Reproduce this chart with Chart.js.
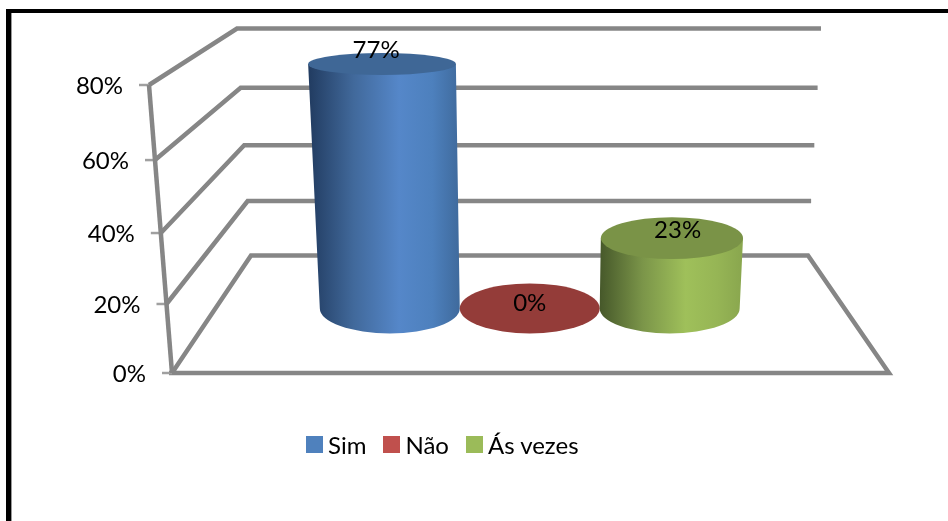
<!DOCTYPE html>
<html>
<head>
<meta charset="utf-8">
<script src="https://cdn.jsdelivr.net/npm/chart.js@4"></script>
<style>
  html, body { margin: 0; padding: 0; background: #fff; }
  #wrap { position: relative; width: 948px; height: 521px; overflow: hidden; }
  #legend { position: absolute; left: 306px; top: 429px; display: flex; align-items: center; height: 30px;
            font: 24px Lato, sans-serif; color: #000; }
  #legend .item { display: flex; align-items: center; margin-right: 17px; }
  #legend .swatch { width: 17px; height: 17px; margin-right: 5px; display: inline-block; }
</style>
</head>
<body>
<div id="wrap">
  <canvas id="chart" width="948" height="521"></canvas>
  <div id="legend"></div>
</div>
<script>
const categories = [""];
const seriesNames = ["Sim", "Não", "Ás vezes"];
const seriesValues = [77, 0, 23];
const tickStep = 20;
const tickMax = 80;

const legendColors = ["#4f81bd", "#c0504d", "#9bbb59"];
const topColors = ["#3f6796", "#943c39", "#7a9347"];
const bodyStops = [
  ["#213b60", "#41699b", "#5587c9", "#4d80bd", "#3f6a9c"],
  ["#943c39", "#943c39", "#943c39", "#943c39", "#943c39"],
  ["#46582a", "#7b9549", "#9fc05a", "#96b555", "#89a64e"],
];

// wall and floor of the fake 3D box, all in terms of f (0 at the floor, 1 at the top tick)
const PERSPECTIVE = 0.0576;
const DEPTH = 0.55;
const frontLeftX = (f) => 172 - 23 * f;
const backLeftX = (f) => 251 - 14 * f;
const backRightX = (f) => 808 + 13 * f;
const backY = (f) => 255.5 - 227 * f;
const frontRightX = 889;

// linear scale, a little compressed towards the floor like the original's perspective
class PerspectiveScale extends Chart.LinearScale {
  static id = "perspective";
  static defaults = Chart.LinearScale.defaults;
  getPixelForDecimal(d) {
    return super.getPixelForDecimal(d / (1 + PERSPECTIVE * (1 - d)));
  }
  getDecimalForPixel(p) {
    const f = super.getDecimalForPixel(p);
    return (f * (1 + PERSPECTIVE)) / (1 + PERSPECTIVE * f);
  }
  // labels follow the tilted axis
  _computeLabelItems(area) {
    const items = super._computeLabelItems(area);
    items.forEach((item) => {
      const y = item.options.translation[1];
      const f = (this.bottom - y) / (this.bottom - this.top);
      item.options.translation[0] = frontLeftX(f) - 26;
      item.options.translation[1] = y + 1.5;
      item.options.textAlign = "right";
    });
    return items;
  }
}
Chart.register(PerspectiveScale);

const decimalOf = (chart, y) => (chart.chartArea.bottom - y) / (chart.chartArea.bottom - chart.chartArea.top);

const drawBox = (chart) => {
  const { ctx } = chart;
  const yScale = chart.scales.y;
  ctx.save();
  // frame of the pasted picture
  ctx.fillStyle = "#000";
  ctx.fillRect(6, 9, 942, 4);
  ctx.fillRect(6, 9, 5, 512);
  ctx.fillStyle = "#999";
  ctx.fillRect(11, 13, 1, 508);

  ctx.strokeStyle = "#868686";
  ctx.lineJoin = "miter";
  yScale.ticks.forEach((tick) => {
    const y = yScale.getPixelForValue(tick.value);
    const f = decimalOf(chart, y);
    ctx.lineWidth = 4.5;
    ctx.beginPath();
    ctx.moveTo(frontLeftX(f), y);
    ctx.lineTo(backLeftX(f), backY(f));
    ctx.lineTo(backRightX(f), backY(f));
    if (tick.value === 0) {
      ctx.lineTo(frontRightX, y);
      ctx.lineTo(frontLeftX(f) - 3, y);
    }
    ctx.stroke();
    ctx.lineWidth = 2.5;
    ctx.strokeStyle = "#a0a0a0";
    ctx.beginPath();
    ctx.moveTo(frontLeftX(f) - 10, y);
    ctx.lineTo(frontLeftX(f), y);
    ctx.stroke();
    ctx.strokeStyle = "#868686";
  });
  ctx.lineWidth = 4.5;
  ctx.beginPath();
  ctx.moveTo(frontLeftX(1), yScale.top);
  ctx.lineTo(frontLeftX(0), yScale.bottom);
  ctx.stroke();
  ctx.restore();
};

const drawCylinders = (chart) => {
  const { ctx, chartArea } = chart;
  const midX = (chartArea.left + chartArea.right) / 2;
  const midY = (f, frontY) => frontY + (backY(f) - frontY) * DEPTH;
  const labels = [];
  chart.data.datasets.forEach((ds, i) => {
    const bar = chart.getDatasetMeta(i).data[0];
    const f = decimalOf(chart, bar.y);
    const grow = 1 + 0.058 * f;
    const baseY = midY(0, bar.base);
    const topY = midY(f, bar.y);
    const topX = midX + (bar.x - midX) * grow;
    const baseRx = bar.width / 2;
    const topRx = (bar.width / 2) * grow;
    const baseRy = 25;
    const topRy = 25 - 14.6 * f;

    ctx.save();
    if (ds.data[0] > 0) {
      const grad = ctx.createLinearGradient(Math.min(topX - topRx, bar.x - baseRx), 0, Math.max(topX + topRx, bar.x + baseRx), 0);
      [0, 0.3, 0.6, 0.82, 1].forEach((stop, k) => grad.addColorStop(stop, bodyStops[i][k]));
      ctx.fillStyle = grad;
      ctx.beginPath();
      ctx.moveTo(topX - topRx, topY);
      ctx.lineTo(bar.x - baseRx, baseY);
      ctx.ellipse(bar.x, baseY, baseRx, baseRy, 0, Math.PI, 0, true);
      ctx.lineTo(topX + topRx, topY);
      ctx.closePath();
      ctx.fill();
    }
    ctx.fillStyle = topColors[i];
    ctx.beginPath();
    ctx.ellipse(topX, topY, topRx, topRy, 0, 0, Math.PI * 2);
    ctx.fill();
    ctx.restore();

    labels.push({
      text: ds.data[0] + "%",
      x: midX + (topX - midX) * 1.04,
      y: topY - 6 - 9.4 * f,
    });
  });
  ctx.save();
  ctx.fillStyle = "#000";
  ctx.font = "24px Lato, sans-serif";
  ctx.textAlign = "center";
  ctx.textBaseline = "middle";
  labels.forEach((l) => ctx.fillText(l.text, l.x, l.y + 1));
  ctx.restore();
};

const cylinderPlugin = {
  id: "cylinders",
  beforeDatasetsDraw(chart) {
    drawBox(chart);
    drawCylinders(chart);
    return false; // flat bars are replaced by the cylinders above
  },
};

new Chart(document.getElementById("chart"), {
  type: "bar",
  data: {
    labels: categories,
    datasets: seriesNames.map((name, i) => ({
      label: name,
      data: [seriesValues[i]],
      backgroundColor: legendColors[i],
    })),
  },
  options: {
    responsive: false,
    animation: false,
    layout: { padding: { top: 85, bottom: 148, left: 0, right: 104 } },
    datasets: { bar: { barPercentage: 1, categoryPercentage: 0.668 } },
    scales: {
      x: { display: false },
      y: {
        type: "perspective",
        min: 0,
        max: tickMax,
        afterFit: (scale) => { scale.width = 215.5; },
        grid: { display: false, drawTicks: false },
        border: { display: false },
        ticks: {
          stepSize: tickStep,
          color: "#000",
          font: { family: "Lato, sans-serif", size: 24 },
          callback: (v) => v + "%",
        },
      },
    },
    plugins: {
      legend: { display: false },
      tooltip: { enabled: false },
    },
  },
  plugins: [cylinderPlugin],
});

// legend as plain html so the swatch spacing can follow the original
const legendEl = document.getElementById("legend");
seriesNames.forEach((name, i) => {
  const item = document.createElement("span");
  item.className = "item";
  const swatch = document.createElement("span");
  swatch.className = "swatch";
  swatch.style.backgroundColor = legendColors[i];
  item.appendChild(swatch);
  item.appendChild(document.createTextNode(name));
  legendEl.appendChild(item);
});
</script>
</body>
</html>
